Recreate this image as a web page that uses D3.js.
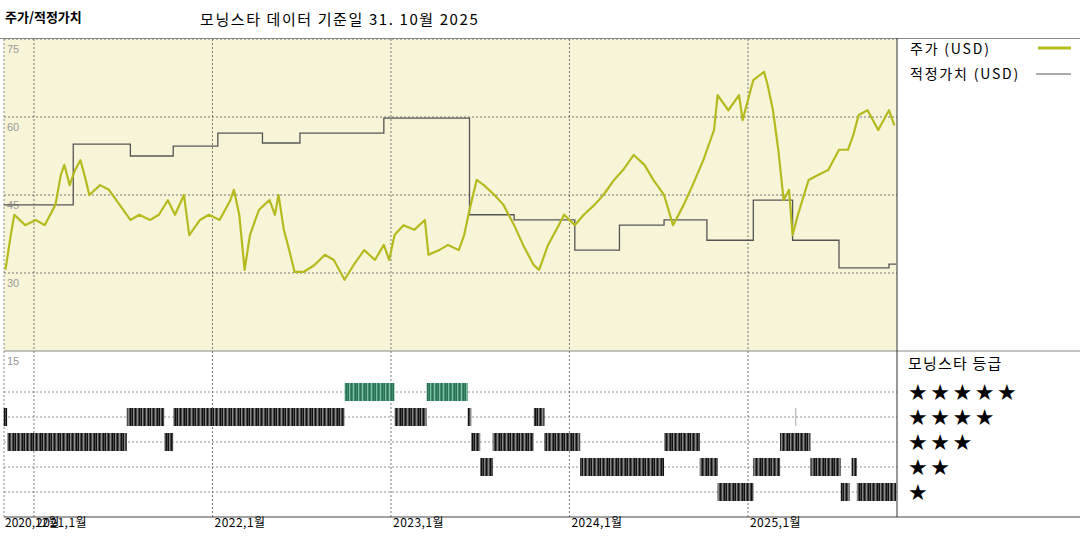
<!DOCTYPE html>
<html><head><meta charset="utf-8">
<script src="https://cdn.jsdelivr.net/npm/d3@7"></script>
<style>body{margin:0;background:#fff;font-family:"Noto Sans CJK KR","Noto Sans",sans-serif}</style>
</head><body><svg id="c" width="1080" height="540"></svg>
<script>
// dates are decimal years
const priceDates = [2020.84,2020.87,2020.89,2020.95,2021.01,2021.06,2021.12,2021.15,2021.17,2021.20,2021.23,2021.26,2021.29,2021.31,2021.37,2021.42,2021.48,2021.54,2021.59,2021.65,2021.70,2021.75,2021.79,2021.84,2021.87,2021.93,2021.98,2022.04,2022.10,2022.12,2022.15,2022.18,2022.21,2022.24,2022.26,2022.29,2022.32,2022.35,2022.37,2022.40,2022.43,2022.46,2022.51,2022.57,2022.63,2022.68,2022.74,2022.79,2022.85,2022.91,2022.96,2022.99,2023.02,2023.07,2023.13,2023.19,2023.21,2023.27,2023.32,2023.38,2023.41,2023.44,2023.48,2023.52,2023.58,2023.63,2023.69,2023.74,2023.80,2023.83,2023.88,2023.94,2023.97,2024.03,2024.08,2024.14,2024.19,2024.25,2024.30,2024.36,2024.42,2024.47,2024.53,2024.58,2024.64,2024.69,2024.75,2024.81,2024.83,2024.89,2024.95,2024.97,2025.03,2025.09,2025.11,2025.14,2025.17,2025.20,2025.23,2025.25,2025.28,2025.34,2025.39,2025.45,2025.51,2025.56,2025.59,2025.62,2025.67,2025.73,2025.79,2025.82];
const priceValues = [30.6,37.3,41.2,39.2,40.2,39.2,43.1,48.8,50.8,46.9,49.8,51.7,47.9,45.0,46.9,46.0,43.1,40.2,41.2,40.2,41.2,44.0,41.2,45.0,37.3,40.2,41.2,40.2,44.0,46.0,41.2,30.6,37.3,40.2,42.1,43.1,44.0,41.2,45.0,38.3,34.4,30.2,30.2,31.5,33.5,32.5,28.7,31.5,34.4,32.5,35.4,32.5,37.3,39.2,38.3,40.2,33.5,34.4,35.4,34.4,37.3,42.1,47.9,46.9,45.0,43.1,39.2,35.4,31.5,30.6,35.4,39.2,41.2,39.2,41.2,43.1,45.0,47.9,49.8,52.7,50.8,47.9,45.0,39.2,43.1,46.9,51.7,57.5,64.2,61.3,64.2,59.4,67.1,68.7,66.2,61.3,53.7,44.0,46.0,37.3,41.2,47.9,48.8,49.8,53.7,53.7,56.5,60.4,61.3,57.5,61.3,58.4];
const fairDates = [2020.83,2021.22,2021.54,2021.78,2022.03,2022.28,2022.49,2022.96,2023.44,2023.69,2024.03,2024.28,2024.53,2024.77,2025.03,2025.25,2025.51,2025.79,2025.83];
const fairValues = [43.1,54.8,52.5,54.4,56.9,55.0,56.9,59.8,41.2,40.2,34.4,39.2,40.2,36.3,44.0,36.3,31.0,31.7,31.7];
// rating periods: [stars, start, end]
const ratings = [
  [4,2020.83,2020.85],[3,2020.85,2021.52],[4,2021.52,2021.73],[3,2021.73,2021.78],[4,2021.78,2022.74],
  [5,2022.74,2023.02],[4,2023.02,2023.20],[5,2023.20,2023.43],[4,2023.43,2023.45],[3,2023.45,2023.50],
  [2,2023.50,2023.57],[3,2023.57,2023.80],[4,2023.80,2023.86],[3,2023.86,2024.06],[2,2024.06,2024.53],
  [3,2024.53,2024.73],[2,2024.73,2024.83],[1,2024.83,2025.03],[2,2025.03,2025.18],[3,2025.18,2025.35],
  [4,2025.265,2025.27],[2,2025.35,2025.52],[1,2025.52,2025.57],[2,2025.58,2025.61],[1,2025.61,2025.83]
];
const yTicks = [75,60,45,30,15];
const xTicks = [2021,2022,2023,2024,2025];
const xLabels = ["2021,1월","2022,1월","2023,1월","2024,1월","2025,1월"];
const starRows = [5,4,3,2,1];

const svg = d3.select("#c");
const x = d3.scaleLinear().domain([2020.832,2025.835]).range([4,897]);
const y = d3.scaleLinear().domain([15,75]).range([351,39]);
const yr = d3.scalePoint().domain(starRows).range([392,492]);

// stripe patterns for rating bars
const defs = svg.append("defs");
function stripes(id, base, dark, light){
  const p = defs.append("pattern").attr("id",id).attr("patternUnits","userSpaceOnUse").attr("width",9).attr("height",20);
  p.append("rect").attr("width",9).attr("height",20).attr("fill",base);
  [[0,dark],[2,light],[4,dark],[6,dark],[7,light]].forEach(([o,c])=>p.append("rect").attr("x",o).attr("width",1).attr("height",20).attr("fill",c));
}
stripes("gs","#4a4a4a","#111","#888");
stripes("gr","#3f8f6e","#2a6f52","#7fbfa4");

svg.append("rect").attr("x",4).attr("y",39).attr("width",893).attr("height",312).attr("fill","#f8f4d8");

const dash = "2,2";
// grid
svg.append("g").selectAll("line").data(yTicks.slice(0,4)).join("line")
  .attr("x1",4).attr("x2",897).attr("y1",d=>y(d)).attr("y2",d=>y(d))
  .attr("stroke","#555").attr("stroke-dasharray",dash).attr("stroke-width",0.8);
svg.append("g").selectAll("line").data(starRows).join("line")
  .attr("x1",4).attr("x2",897).attr("y1",d=>yr(d)).attr("y2",d=>yr(d))
  .attr("stroke","#777").attr("stroke-dasharray",dash).attr("stroke-width",0.8);
svg.append("g").selectAll("line").data(xTicks).join("line")
  .attr("x1",d=>x(d)).attr("x2",d=>x(d)).attr("y1",39).attr("y2",517)
  .attr("stroke","#555").attr("stroke-dasharray",dash).attr("stroke-width",0.8);
svg.append("line").attr("x1",4).attr("x2",4).attr("y1",39).attr("y2",517)
  .attr("stroke","#888").attr("stroke-dasharray",dash);

svg.append("g").selectAll("text").data(yTicks).join("text")
  .attr("x",7).attr("y",d=>y(d)+14).attr("font-size",11).attr("fill","#999")
  .attr("font-family","Liberation Sans, Arial").text(d=>d);

// rating bars
svg.append("g").selectAll("rect").data(ratings).join("rect")
  .attr("x",d=>x(d[1])).attr("width",d=>Math.max(1,x(d[2])-x(d[1])))
  .attr("y",d=>yr(d[0])-9).attr("height",18)
  .attr("fill",d=>d[0]===5?"url(#gr)":(x(d[2])-x(d[1])<2?"#aaa":"url(#gs)"));

// lines
const fair = fairDates.map((d,i)=>[d,fairValues[i]]);
svg.append("path").datum(fair).attr("fill","none").attr("stroke","#555").attr("stroke-width",1.3)
  .attr("d",d3.line().x(d=>x(d[0])).y(d=>y(d[1])).curve(d3.curveStepAfter));
const price = priceDates.map((d,i)=>[d,priceValues[i]]);
svg.append("path").datum(price).attr("fill","none").attr("stroke","#b5bb1e").attr("stroke-width",2.2)
  .attr("stroke-linejoin","round").attr("d",d3.line().x(d=>x(d[0])).y(d=>y(d[1])));

// frame
svg.append("line").attr("x1",0).attr("x2",1080).attr("y1",38.5).attr("y2",38.5).attr("stroke","#888");
svg.append("line").attr("x1",4).attr("x2",1080).attr("y1",351).attr("y2",351).attr("stroke","#888");
svg.append("line").attr("x1",4).attr("x2",1080).attr("y1",517).attr("y2",517).attr("stroke","#444");
svg.append("line").attr("x1",897).attr("x2",897).attr("y1",38).attr("y2",517).attr("stroke","#333");

// x labels (the first two overlap in the original too)
svg.append("text").attr("x",5).attr("y",527).attr("font-size",12).text("2020,12월");
svg.append("g").selectAll("text").data(xTicks).join("text")
  .attr("x",d=>x(d)+2).attr("y",527).attr("font-size",12).attr("letter-spacing",0.5).text((d,i)=>xLabels[i]);

// titles
svg.append("text").attr("x",5).attr("y",22).attr("font-size",13).attr("font-weight","bold").text("주가/적정가치");
svg.append("text").attr("x",200).attr("y",25).attr("font-size",15).attr("letter-spacing",1.6).text("모닝스타 데이터 기준일 31. 10월 2025");

// legend
svg.append("text").attr("x",910).attr("y",54).attr("font-size",14).attr("letter-spacing",1.8).text("주가 (USD)");
svg.append("line").attr("x1",1038).attr("x2",1071).attr("y1",48).attr("y2",48).attr("stroke","#b5bb1e").attr("stroke-width",3);
svg.append("text").attr("x",910).attr("y",79).attr("font-size",14).attr("letter-spacing",1.8).text("적정가치 (USD)");
svg.append("line").attr("x1",1036).attr("x2",1071).attr("y1",74).attr("y2",74).attr("stroke","#555").attr("stroke-width",1);
svg.append("text").attr("x",908).attr("y",369).attr("font-size",15).attr("letter-spacing",1.2).text("모닝스타 등급");
svg.append("g").selectAll("text").data(starRows).join("text")
  .attr("x",908).attr("y",d=>yr(d)+8).attr("font-size",22).attr("letter-spacing",2.5).attr("font-family","DejaVu Sans")
  .text(d=>"★".repeat(d));
</script></body></html>
